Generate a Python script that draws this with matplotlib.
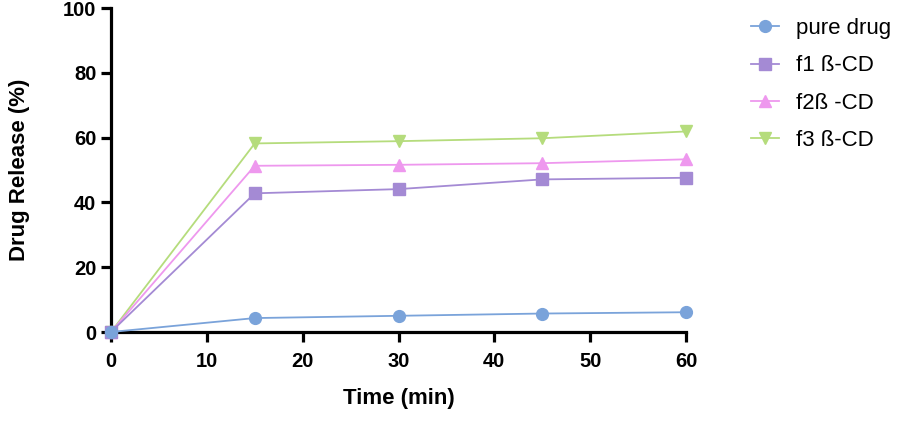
import matplotlib
matplotlib.use("Agg")
import matplotlib.pyplot as plt

# Data
time_min = [0, 15, 30, 45, 60]
pure_drug = [0, 4.3, 5.0, 5.7, 6.1]
f1_cd = [0, 42.8, 44.1, 47.1, 47.6]
f2_cd = [0, 51.3, 51.6, 52.1, 53.3]
f3_cd = [0, 58.2, 58.9, 59.8, 61.9]

series_labels = ["pure drug", "f1 ß-CD", "f2ß -CD", "f3 ß-CD"]
x_ticks = [0, 10, 20, 30, 40, 50, 60]
y_ticks = [0, 20, 40, 60, 80, 100]

plt.rcParams['font.family'] = ['Liberation Sans', 'DejaVu Sans']

fig = plt.figure(figsize=(9.06, 4.3), dpi=100)
ax = fig.add_axes([111 / 906, 1 - 332 / 430, (686 - 111) / 906, (332 - 8) / 430])

styles = [
    ("#7AA3DA", "o", 8.5),
    ("#A48AD4", "s", 8.5),
    ("#EE98EE", "^", 8.5),
    ("#B5DC7C", "v", 8.5),
]
all_series = [pure_drug, f1_cd, f2_cd, f3_cd]

# draw in reverse so the blue series sits on top at the origin
handles = [None] * 4
for i in reversed(range(4)):
    color, marker, ms = styles[i]
    h, = ax.plot(time_min, all_series[i], color=color, marker=marker, markersize=ms,
                 linewidth=1.3, label=series_labels[i], clip_on=False, zorder=3 + (4 - i))
    handles[i] = h

ax.set_xlim(0, 60)
ax.set_ylim(0, 100)
ax.set_xticks(x_ticks)
ax.set_yticks(y_ticks)

for side in ["top", "right"]:
    ax.spines[side].set_visible(False)
for side in ["left", "bottom"]:
    ax.spines[side].set_linewidth(2.3)

ax.tick_params(axis="both", direction="out", length=7.5, width=2.3, labelsize=14.5)
ax.tick_params(axis="x", pad=7)
ax.tick_params(axis="y", pad=3)
for lbl in ax.get_xticklabels() + ax.get_yticklabels():
    lbl.set_fontweight("bold")

ax.set_xlabel("Time (min)", fontsize=16, fontweight="bold", labelpad=12)
ax.set_ylabel("Drug Release (%)", fontsize=16, fontweight="bold", labelpad=24)

fig.legend(handles, series_labels, loc="upper left", bbox_to_anchor=(731 / 906, 1.005),
           frameon=False, fontsize=16, handlelength=1.26, handletextpad=0.77, labelspacing=0.74,
           markerscale=1.0)

fig.savefig("out.png", dpi=100)
